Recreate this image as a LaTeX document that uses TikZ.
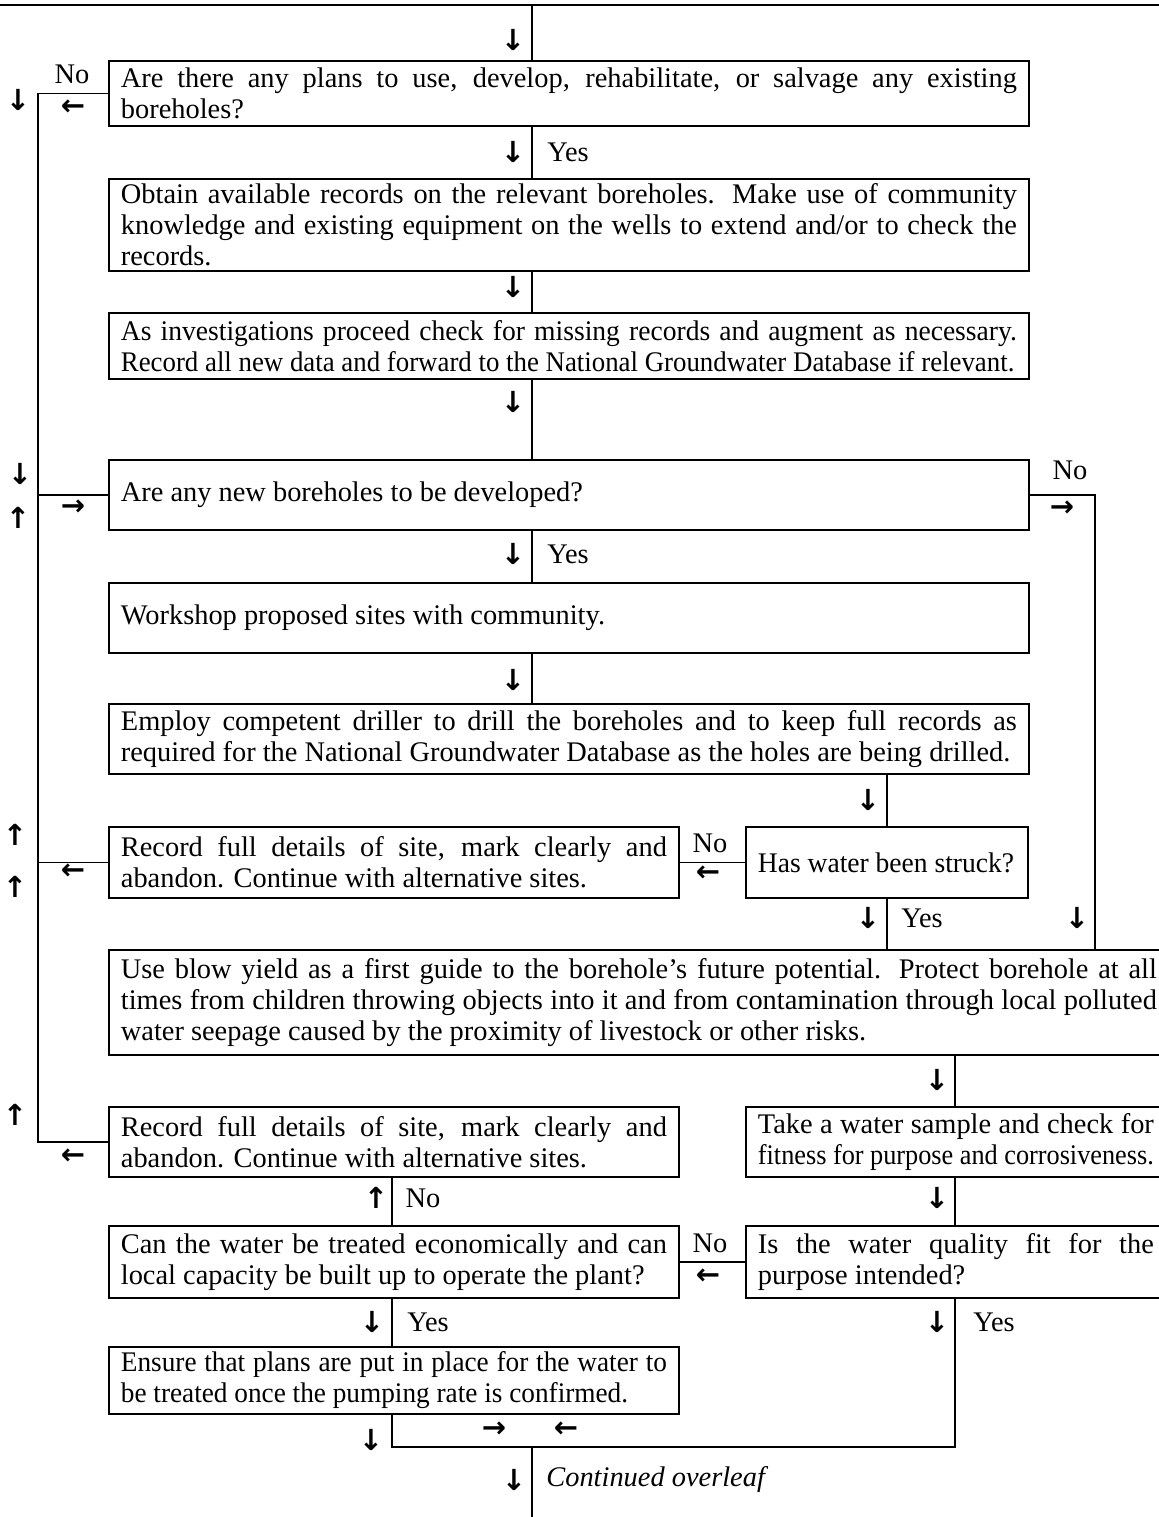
\documentclass[tikz,border=0pt]{standalone}
\usepackage{fontspec}
\setmainfont{Liberation Serif}
\newfontfamily\condA[FakeStretch=0.97]{Liberation Serif}
\newfontfamily\condB[FakeStretch=0.945]{Liberation Serif}
\newfontfamily\condC[FakeStretch=0.925]{Liberation Serif}
\newfontfamily\condD[FakeStretch=0.96]{Liberation Serif}
\newfontfamily\arrowfont{DejaVu Sans}
\newcommand{\fs}{\fontsize{14.2}{15.5}\selectfont}
\newcommand{\da}{{\arrowfont\bfseries ↓}}
\newcommand{\ua}{{\arrowfont\bfseries ↑}}
\newcommand{\la}{{\arrowfont\bfseries ←}}
\newcommand{\ra}{{\arrowfont\bfseries →}}
\begin{document}
\begin{tikzpicture}[x=0.5pt,y=-0.5pt,
  box/.style={draw, line width=0.9pt, anchor=north west, inner xsep=6pt, inner ysep=1pt, font=\fs, align=justify},
  conn/.style={line width=0.9pt},
  lbl/.style={font=\fs, inner sep=0pt},
  arr/.style={font=\fontsize{14.5}{14.5}\selectfont, inner sep=0pt}]
\useasboundingbox (0,0) rectangle (1159,1517);
% coordinates
\coordinate (tl) at (0,5);
\coordinate (tr) at (1159,5);
\coordinate (cx) at (532,0);
\coordinate (busx) at (38,0);
\coordinate (rx) at (1095,0);
\coordinate (hx) at (887,0);
\coordinate (qx) at (955,0);
\coordinate (jl) at (392,1447);
\coordinate (jr) at (955,1447);
\coordinate (endb) at (532,1517);

% boxes
\node[box, text width=448pt, minimum height=32.5pt] (b1) at (108,60)
 {Are there any plans to use, develop, rehabilitate, or salvage any existing\linebreak boreholes?};
\node[box, text width=448pt, minimum height=46pt] (b2) at (108,178)
 {Obtain available records on the relevant boreholes. Make use of community\linebreak knowledge and existing equipment on the wells to extend and/or to check the\linebreak records.};
\node[box, text width=448pt, minimum height=33pt] (b3) at (108,312)
 {{\condA As investigations proceed check for missing records and augment as necessary.}\linebreak {\condB Record all new data and forward to the National Groundwater Database if relevant.}};
\node[box, text width=448pt, minimum height=35pt] (b4) at (108,459)
 {Are any new boreholes to be developed?};
\node[box, text width=448pt, minimum height=35pt] (b5) at (108,582)
 {Workshop proposed sites with community.};
\node[box, text width=448pt, minimum height=35pt] (b6) at (108,703)
 {Employ competent driller to drill the boreholes and to keep full records as\linebreak required for the National Groundwater Database as the holes are being drilled.};
\node[box, text width=273pt, minimum height=35.5pt] (b7) at (108,826)
 {Record full details of site, mark clearly and\linebreak abandon. Continue with alternative sites.};
\node[box, text width=129pt, minimum height=35.5pt] (b8) at (745,826)
 {{\condA Has water been struck?}};
\node[box, text width=518pt, minimum height=52.5pt] (b9) at (108,949)
 {Use blow yield as a first guide to the borehole’s future potential. Protect borehole at all\linebreak times from children throwing objects into it and from contamination through local polluted\linebreak water seepage caused by the proximity of livestock or other risks.};
\node[box, text width=273pt, minimum height=35pt] (b10) at (108,1106)
 {Record full details of site, mark clearly and\linebreak abandon. Continue with alternative sites.};
\node[box, text width=198pt, minimum height=35pt] (b11) at (745,1106)
 {Take a water sample and check for\linebreak {\condC fitness for purpose and corrosiveness.}};
\node[box, text width=273pt, minimum height=36pt] (b12) at (108,1225)
 {Can the water be treated economically and can\linebreak local capacity be built up to operate the plant?};
\node[box, text width=198pt, minimum height=36pt] (b13) at (745,1225)
 {Is the water quality fit for the\linebreak purpose intended?};
\node[box, text width=273pt, minimum height=33.5pt] (b14) at (108,1346)
 {{\condD Ensure that plans are put in place for the water to\linebreak be treated once the pumping rate is confirmed.}};

% connectors
\draw[conn] (tl) -- (tr);
\draw[conn] (tl -| cx) -- (b1.north -| cx);
\draw[conn] (b1.south -| cx) -- (b2.north -| cx);
\draw[conn] (b2.south -| cx) -- (b3.north -| cx);
\draw[conn] (b3.south -| cx) -- (b4.north -| cx);
\draw[conn] (b4.south -| cx) -- (b5.north -| cx);
\draw[conn] (b5.south -| cx) -- (b6.north -| cx);
\draw[conn] (b1.west) -- (b1.west -| busx) -- (b10.west -| busx) -- (b10.west);
\draw[conn] (b4.west) -- (b4.west -| busx);
\draw[conn] (b7.west) -- (b7.west -| busx);
\draw[conn] (b4.east) -- (b4.east -| rx) -- (b9.north -| rx);
\draw[conn] (b6.south -| hx) -- (b8.north -| hx);
\draw[conn] (b8.west) -- (b7.east);
\draw[conn] (b8.south -| hx) -- (b9.north -| hx);
\draw[conn] (b9.south -| qx) -- (b11.north -| qx);
\draw[conn] (b11.south -| qx) -- (b13.north -| qx);
\draw[conn] (b13.west) -- (b12.east);
\draw[conn] (b12.north -| jl) -- (b10.south -| jl);
\draw[conn] (b12.south -| jl) -- (b14.north -| jl);
\draw[conn] (b14.south -| jl) -- (jl) -- (jr) -- (b13.south -| jr);
\draw[conn] (jl -| cx) -- (endb);

% arrow glyphs and labels
\node[arr] (a1) at (513,40) {\da};
\node[arr] (a2) at (513,152) {\da};
\node[lbl] (y1) at (568,152) {Yes};
\node[arr] (a3) at (513,287) {\da};
\node[arr] (a4) at (513,402) {\da};
\node[arr] (a5) at (513,554) {\da};
\node[lbl] (y2) at (568,554) {Yes};
\node[arr] (a6) at (513,680) {\da};
\node[lbl] (n1) at (72,74) {No};
\node[arr] (a7) at (73,108) {\la};
\node[arr] (a8) at (18,100) {\da};
\node[arr] (a9) at (20,474) {\da};
\node[arr] (a10) at (18,518) {\ua};
\node[arr] (a11) at (73,508) {\ra};
\node[lbl] (n2) at (1070,470) {No};
\node[arr] (a12) at (1062,509) {\ra};
\node[arr] (a13) at (868,800) {\da};
\node[lbl] (n3) at (710,843) {No};
\node[arr] (a14) at (708,874) {\la};
\node[arr] (a15) at (73,872) {\la};
\node[arr] (a16) at (15,835) {\ua};
\node[arr] (a17) at (15,887) {\ua};
\node[arr] (a18) at (868,918) {\da};
\node[lbl] (y3) at (922,918) {Yes};
\node[arr] (a19) at (1077,918) {\da};
\node[arr] (a20) at (937,1080) {\da};
\node[arr] (a21) at (73,1157) {\la};
\node[arr] (a22) at (15,1115) {\ua};
\node[arr] (a23) at (376,1198) {\ua};
\node[lbl] (n4) at (423,1198) {No};
\node[arr] (a24) at (937,1198) {\da};
\node[lbl] (n5) at (710,1243) {No};
\node[arr] (a25) at (708,1277) {\la};
\node[arr] (a26) at (372,1322) {\da};
\node[lbl] (y4) at (428,1322) {Yes};
\node[arr] (a27) at (937,1322) {\da};
\node[lbl] (y5) at (994,1322) {Yes};
\node[arr] (a28) at (371,1440) {\da};
\node[arr] (a29) at (494,1430) {\ra};
\node[arr] (a30) at (566,1430) {\la};
\node[arr] (a31) at (514,1480) {\da};
\node[lbl, anchor=west] (co) at (546,1480) {\itshape Continued overleaf};
\end{tikzpicture}
\end{document}
